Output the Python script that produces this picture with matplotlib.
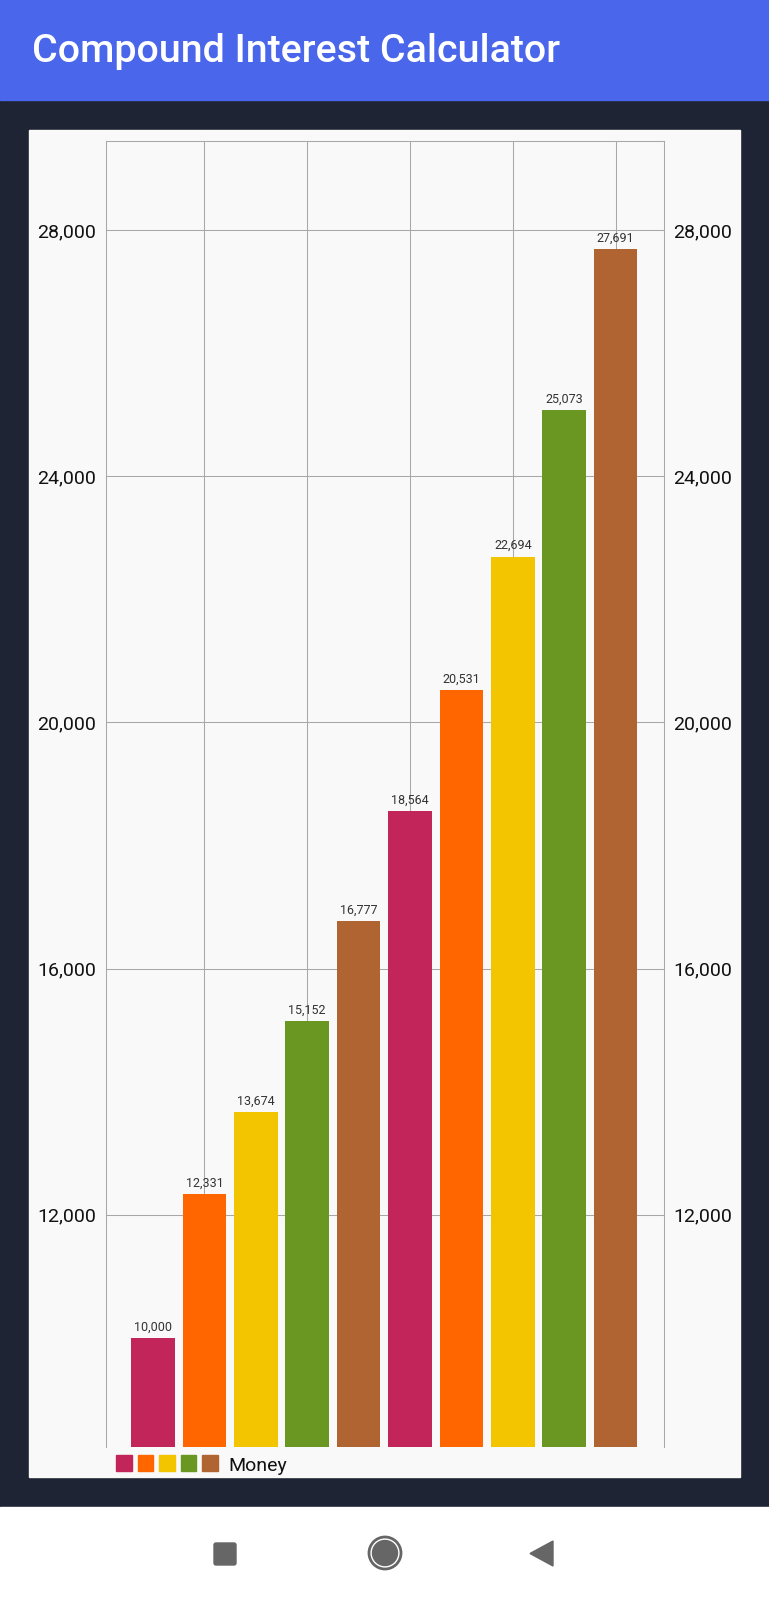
import matplotlib
matplotlib.use("Agg")
import matplotlib.pyplot as plt
from matplotlib.patches import Rectangle, Circle, Polygon, FancyBboxPatch

# data
years = list(range(10))
money = [10000, 12331, 13674, 15152, 16777, 18564, 20531, 22694, 25073, 27691]
bar_colors = ["#C2255A", "#FF6600", "#F2C500", "#6A9622", "#B06432",
              "#C2255A", "#FF6600", "#F2C500", "#6A9622", "#B06432"]
legend_colors = ["#C2255A", "#FF6600", "#F2C500", "#6A9622", "#B06432"]
y_ticks = [12000, 16000, 20000, 24000, 28000]
x_grid = [1, 3, 5, 7, 9]
series_name = "Money"
title = "Compound Interest Calculator"

W, H = 769, 1600
plt.rcParams["font.family"] = ["Roboto", "DejaVu Sans"]

fig = plt.figure(figsize=(W / 100, H / 100), dpi=100)
fig.patch.set_facecolor("#1E2433")

# background layer in pixel coords
bg = fig.add_axes([0, 0, 1, 1], zorder=0)
bg.set_xlim(0, W)
bg.set_ylim(H, 0)
bg.axis("off")

bg.add_patch(Rectangle((0, 0), W, 100, color="#4A67EB"))
bg.add_patch(Rectangle((29, 130), 711, 1347, color="#F9F9F9"))
bg.add_patch(Rectangle((0, 1507), W, 93, color="#FFFFFF"))
bg.text(32, 62, title, color="white", fontsize=28.4, fontweight="medium", va="baseline")

# legend
lx = 116
for c in legend_colors:
    bg.add_patch(Rectangle((lx, 1455), 15.5, 15.5, color=c))
    lx += 21.5
bg.text(228, 1471, series_name, fontsize=14, color="#111111", va="baseline")

# nav bar
nav = "#666666"
bg.add_patch(FancyBboxPatch((214, 1543), 22, 22, boxstyle="round,pad=0,rounding_size=2", color=nav))
bg.add_patch(Circle((385, 1553), 16, fill=False, ec=nav, lw=2.0))
bg.add_patch(Circle((385, 1553), 12.5, color=nav))
bg.add_patch(Polygon([(553, 1541), (553, 1566), (530, 1553.5)], closed=True, color=nav))

# chart
ax = fig.add_axes([105.7 / W, 1 - 1446.7 / H, 558 / W, 1306 / H], zorder=1)
ax.set_facecolor("#F9F9F9")
ax.bar(years, money, width=0.846, color=bar_colors, zorder=2)
for x, v in zip(years, money):
    ax.annotate(f"{v:,}", (x, v), xytext=(0, 5.3), textcoords="offset points",
                ha="center", va="baseline", fontsize=9, color="#333333", zorder=3)

ax.set_xlim(-0.92, 9.935)
ax.set_ylim(8230, 29451)
ax.set_xticks(x_grid)
ax.set_xticklabels([])
ax.set_yticks(y_ticks)
ax.set_yticklabels([f"{t:,}" for t in y_ticks])
ax.tick_params(axis="x", length=0)
ax.tick_params(axis="y", length=0, pad=7, labelsize=14, labelcolor="#111111",
               left=True, right=True, labelleft=True, labelright=True)
ax.grid(True, color="#A8A8A8", linewidth=0.75, zorder=1)
ax.set_axisbelow(True)
for side in ["left", "right", "top"]:
    ax.spines[side].set_color("#A8A8A8")
    ax.spines[side].set_linewidth(0.75)
ax.spines["bottom"].set_visible(False)

fig.savefig("out.png", dpi=100, facecolor=fig.get_facecolor())
